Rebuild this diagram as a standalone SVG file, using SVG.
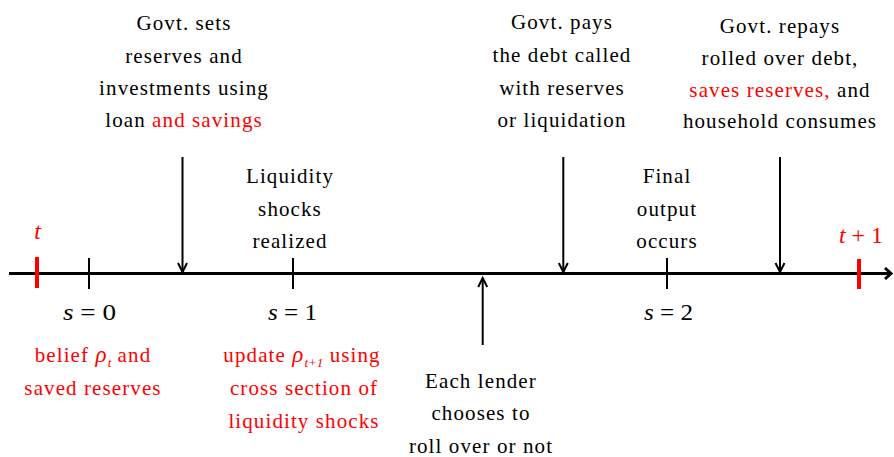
<svg xmlns="http://www.w3.org/2000/svg" width="894" height="457" viewBox="0 0 894 457">
<style>
text{font-family:"Liberation Serif","Times New Roman",serif;font-size:21px;letter-spacing:1.1px;fill:#000;text-anchor:middle}
.r{fill:#ff0000}
.m{font-size:23px;letter-spacing:0;text-anchor:start}
.i{font-style:italic}
.sub{font-size:13px;font-style:italic;letter-spacing:0}
.ln{stroke:#000;stroke-width:2;fill:none}
.tick{stroke:#000;stroke-width:2}
.rtick{stroke:#ff0000;stroke-width:4}
</style>
<defs>
<marker id="ah" markerUnits="userSpaceOnUse" markerWidth="14" markerHeight="14" viewBox="-11 -7 14 14" refX="0" refY="0" orient="auto">
<path d="M-9,-4.5 L0,0 L-9,4.5" fill="none" stroke="#000" stroke-width="2"/>
</marker>
<marker id="axh" markerUnits="userSpaceOnUse" markerWidth="14" markerHeight="16" viewBox="-10 -8 14 16" refX="0" refY="0" orient="auto">
<path d="M-6,-5.5 L0,0 L-6,5.5" fill="none" stroke="#000" stroke-width="3"/>
</marker>
</defs>
<rect width="894" height="457" fill="#fff"/>
<g id="connectors">
<line x1="9" y1="273.5" x2="891" y2="273.5" stroke="#000" stroke-width="3" marker-end="url(#axh)"/>
<line class="ln" x1="182.5" y1="157" x2="182.5" y2="272" marker-end="url(#ah)"/>
<line class="ln" x1="563.3" y1="157" x2="563.3" y2="272" marker-end="url(#ah)"/>
<line class="ln" x1="780" y1="157" x2="780" y2="272" marker-end="url(#ah)"/>
<line class="ln" x1="482.7" y1="345" x2="482.7" y2="278" marker-end="url(#ah)"/>
</g>
<g id="ticks">
<line class="rtick" x1="37" y1="257" x2="37" y2="288"/>
<line class="tick" x1="89" y1="258" x2="89" y2="289"/>
<line class="tick" x1="293" y1="258" x2="293" y2="289"/>
<line class="tick" x1="667" y1="258" x2="667" y2="289"/>
<line class="rtick" x1="859" y1="259" x2="859" y2="289"/>
</g>
<g id="label-t">
<text class="r i" x="37.5" y="239" style="font-size:24px;letter-spacing:0">t</text>
</g>
<g id="label-t1">
<text class="m r" x="839" y="243" textLength="44" lengthAdjust="spacingAndGlyphs"><tspan class="i">t</tspan> + 1</text>
</g>
<g id="label-s0">
<text class="m" x="63" y="320" textLength="53" lengthAdjust="spacingAndGlyphs"><tspan class="i">s</tspan> = 0</text>
</g>
<g id="label-s1">
<text class="m" x="268" y="320" textLength="49" lengthAdjust="spacingAndGlyphs"><tspan class="i">s</tspan> = 1</text>
</g>
<g id="label-s2">
<text class="m" x="644" y="320" textLength="49" lengthAdjust="spacingAndGlyphs"><tspan class="i">s</tspan> = 2</text>
</g>
<g id="govt-sets">
<text x="184" y="30">Govt. sets</text>
<text x="184" y="63">reserves and</text>
<text x="184" y="95">investments using</text>
<text x="184" y="127">loan <tspan class="r">and savings</tspan></text>
</g>
<g id="govt-pays">
<text x="562" y="29">Govt. pays</text>
<text x="562" y="62">the debt called</text>
<text x="562" y="95">with reserves</text>
<text x="562" y="127">or liquidation</text>
</g>
<g id="govt-repays">
<text x="780" y="33">Govt. repays</text>
<text x="780" y="65">rolled over debt,</text>
<text x="780" y="97"><tspan class="r">saves reserves,</tspan> and</text>
<text x="780" y="128">household consumes</text>
</g>
<g id="liquidity-shocks">
<text x="290" y="183">Liquidity</text>
<text x="290" y="216">shocks</text>
<text x="290" y="248">realized</text>
</g>
<g id="final-output">
<text x="667" y="183">Final</text>
<text x="667" y="216">output</text>
<text x="667" y="248">occurs</text>
</g>
<g id="each-lender">
<text x="481" y="388">Each lender</text>
<text x="481" y="420">chooses to</text>
<text x="481" y="453">roll over or not</text>
</g>
<g id="belief">
<text class="r" x="93" y="362">belief <tspan class="i" style="font-size:23px">ρ</tspan><tspan class="sub" dy="5">t</tspan><tspan dy="-5"> and</tspan></text>
<text class="r" x="93" y="395">saved reserves</text>
</g>
<g id="update">
<text class="r" x="302" y="362">update <tspan class="i" style="font-size:23px">ρ</tspan><tspan class="sub" dy="5">t+1</tspan><tspan dy="-5"> using</tspan></text>
<text class="r" x="304" y="395">cross section of</text>
<text class="r" x="304" y="428">liquidity shocks</text>
</g>
</svg>
